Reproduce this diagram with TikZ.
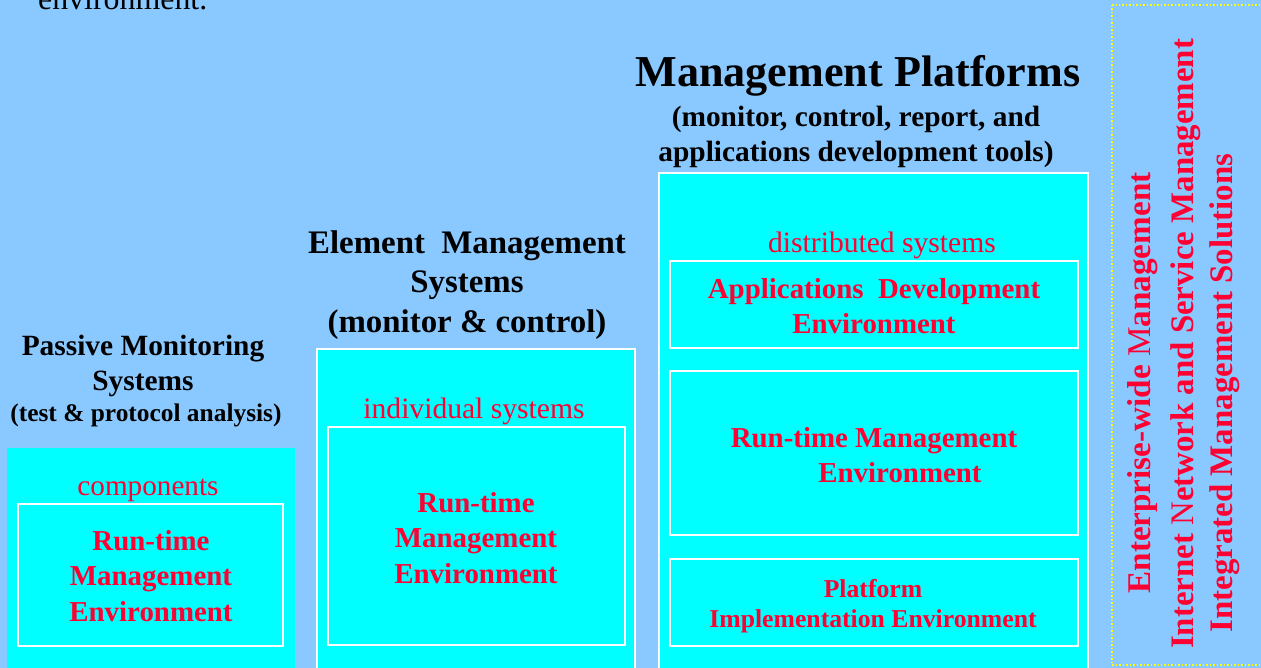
\documentclass[tikz,border=0pt]{standalone}
\usepackage{fontspec}
\setmainfont{Liberation Serif}
\definecolor{bgblue}{RGB}{138,201,255}
\definecolor{cyanbox}{RGB}{0,255,255}
\definecolor{redtxt}{RGB}{255,0,51}
\definecolor{dotyellow}{RGB}{255,255,0}
\tikzset{
  outerbox/.style={fill=cyanbox, draw=white, line width=1.5bp},
  outerplain/.style={fill=cyanbox, draw=none},
  innerbox/.style={draw=white, line width=1.5bp, fill=none},
  heading/.style={text=black, font=\bfseries, align=center, inner sep=0pt},
  label/.style={text=redtxt, align=center, inner sep=0pt},
  redbold/.style={text=redtxt, font=\bfseries, align=center, inner sep=0pt},
}
\newcommand{\fs}[2]{\fontsize{#1}{#2}\selectfont}
\begin{document}
\begin{tikzpicture}[x=1bp,y=-1bp]
\useasboundingbox (0,0) rectangle (1261,668);
\begin{scope}
\clip (0,0) rectangle (1261,668);
\fill[bgblue] (0,0) rectangle (1261,668);
% cut-off text at top
\node[anchor=base west, inner sep=0pt, font=\fs{32}{36}] (envtop) at (38,10) {environment.};

% left column
\path[outerplain] (7,448) rectangle (295,680);
\node[heading, font=\fs{29.5}{36}\bfseries] (pms) at (143,366) {Passive Monitoring\\Systems};
\node[heading, font=\fs{25.5}{28}\bfseries] (pmsub) at (146,415) {(test \& protocol analysis)};
\node[label, font=\fs{29.3}{32}] (comp) at (148,490) {components};
\path[innerbox] (18,504) rectangle (283,646);
\node[redbold, font=\fs{29}{35.5}\bfseries] (lrte) at (151,576) {Run-time\\Management\\Environment};

% middle column
\path[outerbox] (317,349) rectangle (635,690);
\node[heading, font=\fs{33}{40}\bfseries] (ems) at (467,285) {Element~ Management\\Systems\\(monitor \& control)};
\node[label, font=\fs{29.7}{32}] (indiv) at (474,411) {individual systems};
\path[innerbox] (328,427) rectangle (625,645);
\node[redbold, font=\fs{29}{35.5}\bfseries] (mrte) at (476,538) {Run-time\\Management\\Environment};

% right column
\path[outerbox] (659,173) rectangle (1088,690);
\node[heading, font=\fs{44.3}{48}\bfseries] (mp) at (858,76) {Management Platforms};
\node[heading, font=\fs{29.5}{35}\bfseries] (mpsub) at (856,137) {(monitor, control, report, and\\applications development tools)};
\node[label, font=\fs{29.7}{32}] (dist) at (882,245) {distributed systems};
\path[innerbox] (670,261) rectangle (1078,348);
\node[redbold, font=\fs{29}{35}\bfseries] (ade) at (874,306) {Applications~ Development\\Environment};
\path[innerbox] (670,371) rectangle (1078,535);
\node[redbold, font=\fs{29}{35}\bfseries] (rme) at (874,455) {Run-time Management\\\hspace*{1.8em}Environment};
\path[innerbox] (670,559) rectangle (1078,646);
\node[redbold, font=\fs{25.8}{30}\bfseries] (pie) at (873,606) {Platform\\Implementation Environment};

% right dotted panel
\draw[dotyellow, dotted, line width=1.5bp] (1112,5) -- (1275,5) (1112,5) -- (1112,665) -- (1275,665);
\node[redbold, rotate=90, font=\fs{33.3}{35}\bfseries] (ewm) at (1143,383) {Enterprise-wide {\mdseries M}anagement};
\node[redbold, rotate=90, font=\fs{33}{35}\bfseries] (insm) at (1186,344) {Internet {\mdseries N}etwork and Service Management};
\node[redbold, rotate=90, font=\fs{33}{35}\bfseries] (ims) at (1225,393) {Integrated Management Solutions};
\end{scope}
\end{tikzpicture}
\end{document}
